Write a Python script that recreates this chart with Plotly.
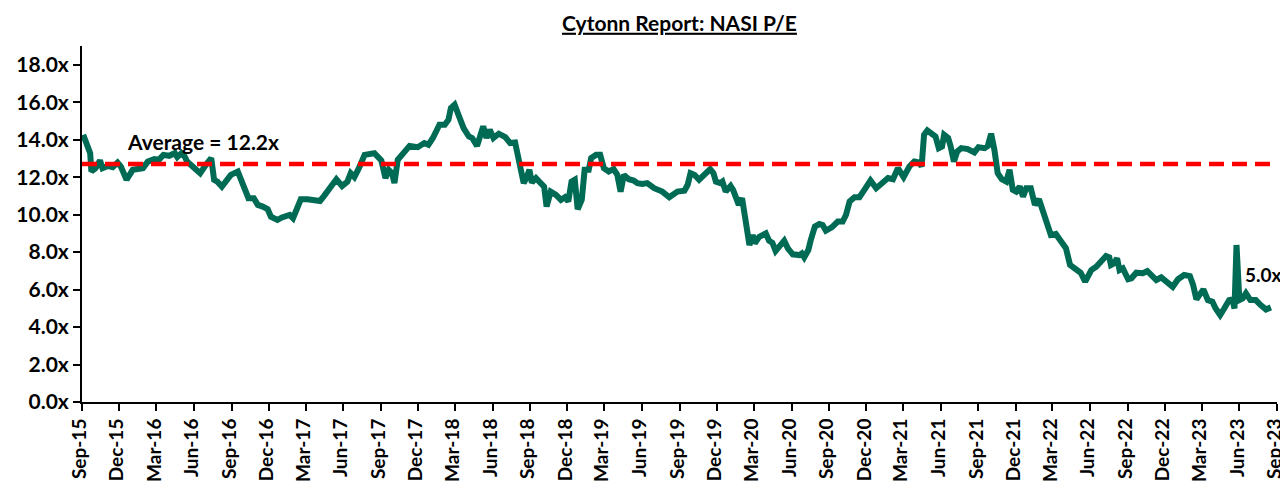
import plotly.graph_objects as go

# ---- data ----
dates = [
    "2015-09-04", "2015-09-14", "2015-09-21", "2015-09-24", "2015-10-04", "2015-10-15", "2015-10-21",
    "2015-11-03", "2015-11-15", "2015-11-27", "2015-12-05", "2015-12-19", "2016-01-03", "2016-01-28",
    "2016-02-09", "2016-02-25", "2016-03-07", "2016-03-18", "2016-04-01", "2016-04-15", "2016-04-21",
    "2016-05-01", "2016-05-09", "2016-05-15", "2016-05-28", "2016-06-16", "2016-06-30", "2016-07-13",
    "2016-07-20", "2016-07-28", "2016-08-08", "2016-08-18", "2016-08-30", "2016-09-16", "2016-09-24",
    "2016-10-02", "2016-10-12", "2016-10-25", "2016-11-04", "2016-11-16", "2016-11-28", "2016-12-06",
    "2016-12-22", "2017-01-02", "2017-01-09", "2017-01-21", "2017-01-29", "2017-02-06", "2017-02-17",
    "2017-03-05", "2017-03-21", "2017-04-05", "2017-04-15", "2017-05-01", "2017-05-15", "2017-05-29",
    "2017-06-11", "2017-06-19", "2017-06-28", "2017-07-09", "2017-07-23", "2017-08-16", "2017-09-02",
    "2017-09-12", "2017-09-20", "2017-09-28", "2017-10-04", "2017-10-12", "2017-10-27", "2017-11-10",
    "2017-11-30", "2017-12-16", "2017-12-26", "2018-01-06", "2018-01-22", "2018-02-04", "2018-02-13",
    "2018-02-19", "2018-02-28", "2018-03-10", "2018-03-22", "2018-04-04", "2018-04-12", "2018-04-24",
    "2018-05-02", "2018-05-09", "2018-05-17", "2018-05-25", "2018-06-03", "2018-06-16", "2018-07-02",
    "2018-07-14", "2018-07-26", "2018-08-05", "2018-08-16", "2018-08-24", "2018-08-30", "2018-09-05",
    "2018-09-15", "2018-09-23", "2018-10-05", "2018-10-11", "2018-10-21", "2018-11-03", "2018-11-15",
    "2018-11-25", "2018-12-03", "2018-12-11", "2018-12-19", "2018-12-26", "2019-01-05", "2019-01-12",
    "2019-01-22", "2019-01-28", "2019-02-09", "2019-02-19", "2019-02-28", "2019-03-12", "2019-03-24",
    "2019-04-02", "2019-04-10", "2019-04-18", "2019-04-30", "2019-05-12", "2019-05-21", "2019-06-02",
    "2019-06-14", "2019-07-01", "2019-07-21", "2019-08-07", "2019-08-27", "2019-09-13", "2019-09-21",
    "2019-09-28", "2019-10-08", "2019-10-19", "2019-11-01", "2019-11-15", "2019-11-23", "2019-11-29",
    "2019-12-10", "2019-12-15", "2019-12-23", "2020-01-04", "2020-01-10", "2020-01-18", "2020-01-24",
    "2020-02-01", "2020-02-07", "2020-02-13", "2020-02-19", "2020-02-27", "2020-03-03", "2020-03-14",
    "2020-03-30", "2020-04-07", "2020-04-15", "2020-04-23", "2020-05-04", "2020-05-14", "2020-05-23",
    "2020-06-04", "2020-06-20", "2020-06-26", "2020-07-02", "2020-07-12", "2020-07-18", "2020-07-28",
    "2020-08-08", "2020-08-16", "2020-08-24", "2020-09-08", "2020-09-22", "2020-10-04", "2020-10-12",
    "2020-10-21", "2020-11-02", "2020-11-14", "2020-11-26", "2020-12-11", "2020-12-25", "2021-01-11",
    "2021-01-23", "2021-02-04", "2021-02-16", "2021-03-02", "2021-03-16", "2021-03-28", "2021-04-09",
    "2021-04-15", "2021-04-21", "2021-04-29", "2021-05-11", "2021-05-19", "2021-05-27", "2021-06-04",
    "2021-06-09", "2021-06-19", "2021-06-25", "2021-07-03", "2021-07-11", "2021-07-21", "2021-08-06",
    "2021-08-22", "2021-09-01", "2021-09-16", "2021-09-24", "2021-10-02", "2021-10-10", "2021-10-18",
    "2021-10-28", "2021-11-08", "2021-11-16", "2021-11-24", "2021-12-02", "2021-12-11", "2021-12-19",
    "2021-12-27", "2022-01-07", "2022-01-17", "2022-01-27", "2022-02-02", "2022-02-10", "2022-02-17",
    "2022-02-25", "2022-03-09", "2022-03-21", "2022-04-03", "2022-04-13", "2022-04-27", "2022-05-09",
    "2022-05-20", "2022-06-04", "2022-06-16", "2022-06-28", "2022-07-10", "2022-07-18", "2022-07-22",
    "2022-07-30", "2022-08-06", "2022-08-12", "2022-08-20", "2022-09-02", "2022-09-10", "2022-09-22",
    "2022-10-08", "2022-10-19", "2022-10-28", "2022-11-10", "2022-11-22", "2022-12-04", "2022-12-20",
    "2023-01-02", "2023-01-17", "2023-01-31", "2023-02-08", "2023-02-16", "2023-02-24", "2023-03-05",
    "2023-03-16", "2023-03-27", "2023-04-04", "2023-04-15", "2023-04-25", "2023-05-07", "2023-05-15",
    "2023-05-20", "2023-05-25", "2023-06-01", "2023-06-09", "2023-06-17", "2023-06-28", "2023-07-11",
    "2023-07-23", "2023-08-05", "2023-08-17",
]

pe_values = [
    14.26, 13.64, 13.28, 12.30, 12.48, 12.89, 12.48,
    12.60, 12.53, 12.78, 12.57, 11.86, 12.39, 12.48,
    12.83, 12.96, 12.93, 13.19, 13.14, 13.28, 13.07,
    13.28, 13.10, 12.83, 12.57, 12.21, 12.66, 13.02,
    11.86, 11.76, 11.50, 11.76, 12.12, 12.30, 11.86,
    11.23, 10.88, 10.88, 10.52, 10.43, 10.29, 9.89,
    9.72, 9.85, 9.93, 9.98, 9.81, 10.34, 10.82,
    10.82, 10.79, 10.73, 11.00, 11.41, 11.89, 11.53,
    11.76, 12.21, 12.00, 12.48, 13.19, 13.28, 12.89,
    11.95, 12.39, 12.21, 11.68, 12.93, 13.37, 13.67,
    13.60, 13.82, 13.73, 14.09, 14.80, 14.80, 15.06,
    15.69, 15.87, 15.24, 14.62, 14.17, 14.09, 13.67,
    14.35, 14.71, 14.09, 14.53, 14.09, 14.32, 14.14,
    13.82, 13.85, 12.93, 11.68, 12.03, 12.39, 11.71,
    11.95, 11.76, 11.50, 10.43, 11.23, 11.05, 10.79,
    10.93, 10.70, 11.76, 11.86, 10.29, 10.79, 12.39,
    12.39, 13.02, 13.19, 13.19, 12.48, 12.30, 12.43,
    12.12, 11.23, 12.12, 11.89, 11.82, 11.68, 11.64,
    11.68, 11.41, 11.23, 10.93, 11.23, 11.28, 11.59,
    12.21, 12.12, 11.86, 12.12, 12.43, 12.21, 11.76,
    11.68, 11.76, 11.23, 11.53, 11.32, 10.88, 10.52,
    10.88, 9.89, 9.18, 8.38, 8.91, 8.47, 8.82,
    9.00, 8.61, 8.50, 8.06, 8.38, 8.61, 8.20,
    7.88, 7.84, 7.93, 7.72, 8.11, 8.65, 9.36,
    9.50, 9.45, 9.14, 9.33, 9.63, 9.63, 9.98,
    10.70, 10.93, 10.93, 11.32, 11.82, 11.41, 11.76,
    11.95, 11.89, 12.48, 12.00, 12.57, 12.83, 12.78,
    12.57, 14.26, 14.49, 14.35, 14.17, 13.55, 13.64,
    14.26, 14.09, 13.64, 12.83, 13.37, 13.55, 13.50,
    13.32, 13.60, 13.55, 13.67, 14.32, 13.46, 12.21,
    11.89, 11.76, 12.39, 11.32, 11.23, 11.50, 10.96,
    11.41, 11.41, 10.52, 10.82, 10.40, 9.89, 9.50,
    8.91, 8.97, 8.65, 8.20, 7.31, 7.08, 6.90,
    6.42, 7.04, 7.22, 7.49, 7.79, 7.72, 7.31,
    7.40, 7.67, 7.04, 7.13, 6.55, 6.60, 6.90,
    6.87, 6.99, 6.78, 6.51, 6.65, 6.42, 6.15,
    6.55, 6.78, 6.72, 6.24, 5.48, 5.71, 6.01,
    5.44, 5.35, 4.99, 4.64, 4.99, 5.44, 5.48,
    4.99, 8.38, 5.44, 5.53, 5.80, 5.44, 5.44,
    5.17, 4.94, 5.05,
]

y_tick_values = [0, 2, 4, 6, 8, 10, 12, 14, 16, 18]
y_tick_labels = [f"<b>{v:.1f}x</b>" for v in y_tick_values]

average_level = 12.7          # level at which the dashed average line is drawn
average_label = "Average = 12.2x"
latest_label = "5.0x"
axis_start, axis_end = "2015-09-01", "2023-09-01"

FONT = "Lato"
GREEN = "#006B54"
RED = "#FF0000"

fig = go.Figure()

fig.add_trace(go.Scatter(
    x=dates, y=pe_values, mode="lines",
    line=dict(color=GREEN, width=6), hoverinfo="x+y", showlegend=False,
))

fig.add_trace(go.Scatter(
    x=[axis_start, "2023-08-30"], y=[average_level, average_level], mode="lines",
    line=dict(color=RED, width=4.5, dash="15px,8px"), showlegend=False,
))

fig.add_annotation(
    x="2015-12-14", y=13.9, text=f"<b>{average_label}</b>", showarrow=False,
    xanchor="left", yanchor="middle", font=dict(family=FONT, size=21, color="black"),
)
fig.add_annotation(
    x=dates[-1], y=6.8, text=f"<b>{latest_label}</b>", showarrow=False,
    xanchor="right", xshift=13, yanchor="middle", font=dict(family=FONT, size=19, color="black"),
)

# the page body adds an 8px offset, so the figure is sized/margined to land
# the plot area at the same screen pixels as in the reference
fig.update_layout(
    width=1296, height=481,
    margin=dict(l=74, r=27, t=38, b=87),
    paper_bgcolor="white", plot_bgcolor="white",
    font=dict(family=FONT, color="black"),
    title=dict(
        text="<b>Cytonn Report: NASI P/E</b>",
        x=0.5, xanchor="center", xref="paper", y=0.968, yanchor="middle",
        font=dict(family=FONT, size=21, color="black", lineposition="under"),
    ),
    xaxis=dict(
        type="date", range=[axis_start, axis_end], automargin=False,
        tick0=axis_start, dtick="M3", tickformat="<b>%b-%y</b>",
        tickangle=-90, ticks="outside", ticklen=7, tickwidth=2, tickcolor="black",
        ticklabelshift=-2,
        showline=True, linecolor="black", linewidth=2, showgrid=False, zeroline=False,
        tickfont=dict(family=FONT, size=19, color="black", weight="bold"),
    ),
    yaxis=dict(
        range=[0, 19], automargin=False,
        tickvals=y_tick_values, ticktext=y_tick_labels,
        ticks="outside", ticklen=7, tickwidth=2, tickcolor="black",
        showline=True, linecolor="black", linewidth=2, showgrid=False, zeroline=False,
        tickfont=dict(family=FONT, size=21, color="black", weight="bold"),
    ),
)

fig.write_html("out.html")
